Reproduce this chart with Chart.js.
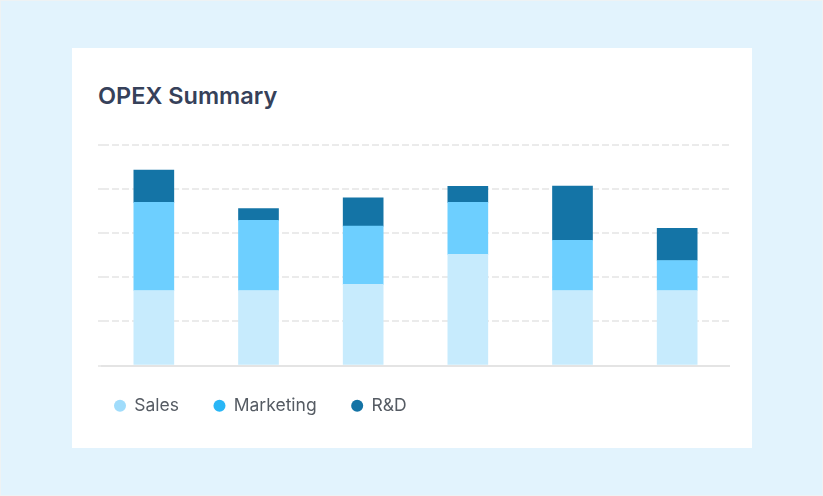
<!DOCTYPE html>
<html>
<head>
<meta charset="utf-8">
<script src="https://cdn.jsdelivr.net/npm/chart.js@4"></script>
<style>
  html, body { margin: 0; padding: 0; }
  body { width: 823px; height: 496px; background: #e2f3fd; position: relative; overflow: hidden; font-family: Inter, "Noto Sans", sans-serif; }
  .frame { position: absolute; left: 0; top: 0; width: 821px; height: 494px; border: 1px solid #eef2f4; }
  .card { position: absolute; left: 72px; top: 48px; width: 680px; height: 400px; background: #ffffff; }
  .title { position: absolute; left: 26px; top: 34px; margin: 0; font-size: 23.5px; font-weight: 600; line-height: 28px; color: #36415a; letter-spacing: 0; }
  #chart { position: absolute; left: 0; top: 0; }
</style>
</head>
<body>
<div class="frame"></div>
<div class="card">
  <div class="title">OPEX Summary</div>
  <canvas id="chart" width="680" height="400"></canvas>
</div>
<script>
const categories = ['Jan', 'Feb', 'Mar', 'Apr', 'May', 'Jun'];
const salesValues = [17, 17, 18.4, 25.2, 17, 17];
const marketingValues = [20, 15.9, 13.2, 11.8, 11.4, 6.8];
const rdValues = [7.3, 2.7, 6.4, 3.6, 12.3, 7.3];
const seriesNames = ['Sales', 'Marketing', 'R&D'];
const yTicks = [0, 10, 20, 30, 40, 50];

const barColors = ['#c7ebfd', '#6dcfff', '#1474a6'];
const legendColors = ['#a0dcfb', '#29b6f6', '#1473a5'];

const ctx = document.getElementById('chart');
new Chart(ctx, {
  type: 'bar',
  data: {
    labels: categories,
    datasets: [
      { label: seriesNames[0], data: salesValues, backgroundColor: barColors[0] },
      { label: seriesNames[1], data: marketingValues, backgroundColor: barColors[1] },
      { label: seriesNames[2], data: rdValues, backgroundColor: barColors[2] }
    ]
  },
  options: {
    responsive: false,
    animation: false,
    devicePixelRatio: 1,
    layout: { padding: { left: 7.5, right: 22.5, top: 97, bottom: 20 } },
    datasets: { bar: { barThickness: 40, borderWidth: 0 } },
    scales: {
      x: {
        stacked: true,
        grid: { display: false, drawTicks: false },
        ticks: { display: false },
        border: { display: true, color: '#e4e4e4', width: 2 },
        afterFit: (scale) => { scale.height = -3.5; }
      },
      y: {
        stacked: true,
        min: yTicks[0],
        max: yTicks[yTicks.length - 1],
        afterBuildTicks: (scale) => { scale.ticks = yTicks.map(v => ({ value: v })); },
        afterFit: (scale) => { scale.width = 22; },
        ticks: { display: false },
        grid: { color: '#ebebeb', lineWidth: 2, drawTicks: true, tickLength: 3.5, tickColor: '#ebebeb', tickWidth: 2, tickBorderDash: [7, 3] },
        border: { display: false, dash: [7, 3] }
      }
    },
    plugins: {
      title: { display: false },
      tooltip: { enabled: false },
      legend: {
        display: true,
        position: 'bottom',
        align: 'start',
        labels: {
          usePointStyle: true,
          pointStyle: 'circle',
          boxWidth: 11,
          boxHeight: 8.5,
          padding: 35,
          color: '#555b63',
          font: { family: 'Inter', size: 17.5, weight: '400' },
          generateLabels: (chart) => seriesNames.map((name, i) => ({
            text: name,
            fillStyle: legendColors[i],
            strokeStyle: legendColors[i],
            lineWidth: 0,
            pointStyle: 'circle',
            hidden: false,
            datasetIndex: i,
            fontColor: '#555b63'
          }))
        }
      }
    }
  }
});
</script>
</body>
</html>
